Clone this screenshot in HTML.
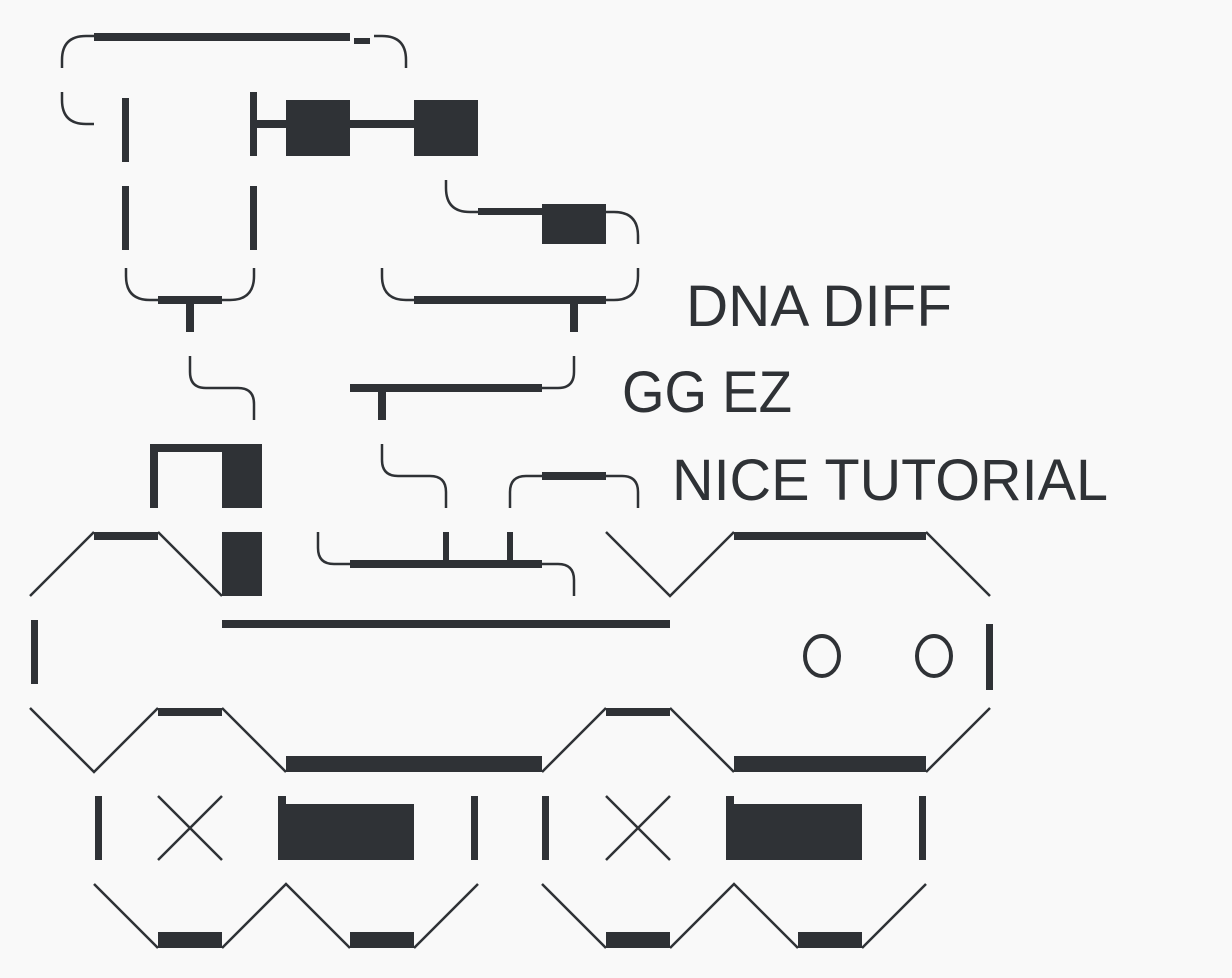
<!DOCTYPE html>
<html><head><meta charset="utf-8"><style>
html,body{margin:0;padding:0;background:#f9f9f9;}
svg{display:block;}
text{font-family:"Liberation Sans",sans-serif;fill:#2f3236;}
</style></head><body>
<svg width="1232" height="978" viewBox="0 0 1232 978">
<rect width="1232" height="978" fill="#f9f9f9"/>
<g fill="none" stroke="#2f3236" stroke-width="2.5">
<path d="M62,68 L62,60 Q62,36 86,36 L94,36"/>
<path d="M374,36 L382,36 Q406,36 406,60 L406,68"/>
<path d="M62,92 L62,100 Q62,124 86,124 L94,124"/>
<path d="M446,180 L446,188 Q446,212 470,212 L478,212"/>
<path d="M606,212 L614,212 Q638,212 638,236 L638,244"/>
<path d="M126,268 L126,276 Q126,300 150,300 L158,300"/>
<path d="M222,300 L230,300 Q254,300 254,276 L254,268"/>
<path d="M382,268 L382,276 Q382,300 406,300 L414,300"/>
<path d="M606,300 L614,300 Q638,300 638,276 L638,268"/>
<path d="M190,356 L190,372 Q190,388 206,388 L238,388 Q254,388 254,404 L254,420"/>
<path d="M542,388 L558,388 Q574,388 574,372 L574,356"/>
<path d="M382,444 L382,460 Q382,476 398,476 L430,476 Q446,476 446,492 L446,508"/>
<path d="M510,508 L510,492 Q510,476 526,476 L542,476"/>
<path d="M606,476 L622,476 Q638,476 638,492 L638,508"/>
<path d="M318,532 L318,548 Q318,564 334,564 L350,564"/>
<path d="M542,564 L558,564 Q574,564 574,580 L574,596"/>
<path d="M30,596 L94,532 M158,532 L222,596"/>
<path d="M606,532 L670,596 L734,532 M926,532 L990,596"/>
<path d="M30,708 L94,772 L158,708 M222,708 L286,772 M542,772 L606,708 M670,708 L734,772 M926,772 L990,708"/>
<path d="M158,796 L222,860 M222,796 L158,860 M606,796 L670,860 M670,796 L606,860"/>
<path d="M94,884 L158,948 M222,948 L286,884 L350,948 M414,948 L478,884"/>
<path d="M542,884 L606,948 M670,948 L734,884 L798,948 M862,948 L926,884"/>
</g>
<g fill="#2f3236">
<rect x="94" y="33" width="256" height="8"/>
<rect x="354" y="38" width="16" height="6"/>
<rect x="122" y="98" width="7" height="64"/>
<rect x="250" y="92" width="7" height="64"/>
<rect x="254" y="120" width="32" height="8"/>
<rect x="286" y="100" width="64" height="56"/>
<rect x="350" y="120" width="64" height="8"/>
<rect x="414" y="100" width="64" height="56"/>
<rect x="122" y="186" width="7" height="64"/>
<rect x="250" y="186" width="7" height="64"/>
<rect x="478" y="208" width="64" height="7"/>
<rect x="542" y="204" width="64" height="40"/>
<rect x="158" y="296" width="64" height="8"/>
<rect x="186" y="300" width="8" height="32"/>
<rect x="414" y="296" width="192" height="8"/>
<rect x="570" y="300" width="8" height="32"/>
<rect x="350" y="384" width="192" height="8"/>
<rect x="378" y="388" width="8" height="32"/>
<rect x="150" y="444" width="8" height="64"/>
<rect x="150" y="444" width="72" height="8"/>
<rect x="222" y="444" width="40" height="64"/>
<rect x="542" y="472" width="64" height="8"/>
<rect x="94" y="532" width="64" height="8"/>
<rect x="222" y="532" width="40" height="64"/>
<rect x="350" y="560" width="192" height="8"/>
<rect x="443" y="532" width="6" height="32"/>
<rect x="507" y="532" width="6" height="32"/>
<rect x="734" y="532" width="192" height="8"/>
<rect x="31" y="620" width="7" height="64"/>
<rect x="222" y="620" width="448" height="8"/>
<rect x="986" y="624" width="7" height="66"/>
<rect x="158" y="708" width="64" height="8"/>
<rect x="286" y="756" width="256" height="16"/>
<rect x="606" y="708" width="64" height="8"/>
<rect x="734" y="756" width="192" height="16"/>
<rect x="95" y="796" width="7" height="64"/>
<rect x="278" y="796" width="8" height="64"/>
<rect x="278" y="804" width="136" height="56"/>
<rect x="471" y="796" width="7" height="64"/>
<rect x="542" y="796" width="7" height="64"/>
<rect x="726" y="796" width="8" height="64"/>
<rect x="726" y="804" width="136" height="56"/>
<rect x="919" y="796" width="7" height="64"/>
<rect x="158" y="932" width="64" height="16"/>
<rect x="350" y="932" width="64" height="16"/>
<rect x="606" y="932" width="64" height="16"/>
<rect x="798" y="932" width="64" height="16"/>
</g>
<g fill="none" stroke="#2f3236" stroke-width="4">
<ellipse cx="822" cy="656" rx="17" ry="20"/>
<ellipse cx="934" cy="656" rx="17" ry="20"/>
</g>
<text x="686" y="326" font-size="58" textLength="266" lengthAdjust="spacingAndGlyphs">DNA DIFF</text>
<text x="622" y="412" font-size="58" textLength="170" lengthAdjust="spacingAndGlyphs">GG EZ</text>
<text x="672" y="500" font-size="58" textLength="436" lengthAdjust="spacingAndGlyphs">NICE TUTORIAL</text>
</svg>
</body></html>
